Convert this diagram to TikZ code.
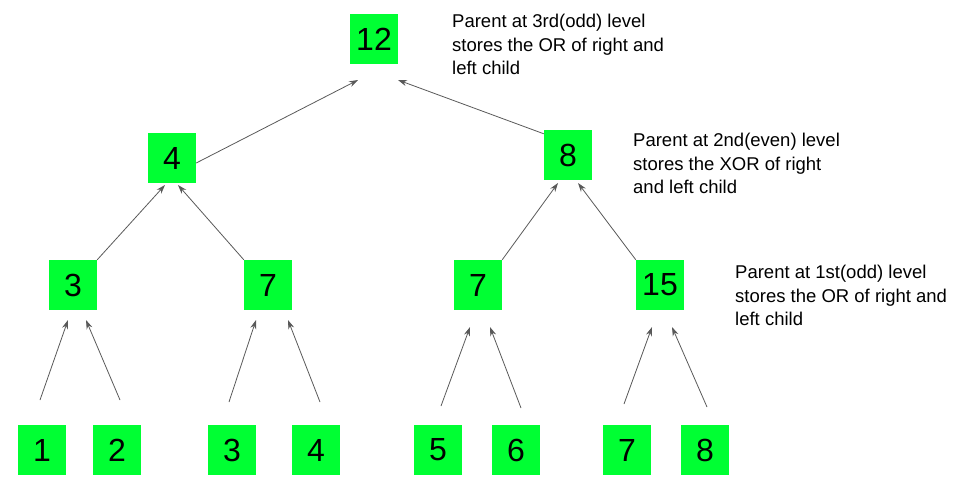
\documentclass[tikz,border=0pt]{standalone}
\usepackage{fontspec}
\setmainfont{Liberation Sans}
\usetikzlibrary{arrows.meta}
\definecolor{boxgreen}{HTML}{00FF33}
\tikzset{
  box/.style={fill=boxgreen, minimum width=48pt, minimum height=50pt, inner sep=0pt, font=\fontsize{32}{34}\selectfont},
  note/.style={anchor=north west, align=left, inner sep=0pt, font=\fontsize{18.5}{23.5}\selectfont},
  arr/.style={draw=black!65, line width=0.8pt, -{Stealth[length=9pt,width=6pt]}}
}
\begin{document}
\begin{tikzpicture}[x=1pt,y=-1pt]
  \useasboundingbox (0,0) rectangle (971,496);
  % tree
  \node[box] (root) at (374,39) {12};
  \node[box] (a) at (172,158) {4};
  \node[box] (b) at (568,155) {8};
  \node[box] (a1) at (73,285) {3};
  \node[box] (a2) at (268,285) {7};
  \node[box] (b1) at (478,285) {7};
  \node[box] (b2) at (660,285) {15};
  \node[box] (l1) at (42,450) {1};
  \node[box] (l2) at (117,450) {2};
  \node[box] (l3) at (232,450) {3};
  \node[box] (l4) at (316,450) {4};
  \node[box] (l5) at (438,450) {5};
  \node[box] (l6) at (516,450) {6};
  \node[box] (l7) at (627,450) {7};
  \node[box] (l8) at (705,450) {8};
  % notes
  \node[note] (n1) at (452,14) {Parent at 3rd(odd) level\\stores the OR of right and\\left child};
  \node[note] (n2) at (633,133) {Parent at 2nd(even) level\\stores the XOR of right\\and left child};
  \node[note] (n3) at (735,265) {Parent at 1st(odd) level\\stores the OR of right and\\left child};
  % arrow ends
  \coordinate (s1) at (40,400);  \coordinate (e1) at (68,320);
  \coordinate (s2) at (120,400); \coordinate (e2) at (86,320);
  \coordinate (s3) at (229,402); \coordinate (e3) at (256,320);
  \coordinate (s4) at (320,402); \coordinate (e4) at (288,320);
  \coordinate (s5) at (441,406); \coordinate (e5) at (470,327);
  \coordinate (s6) at (521,408); \coordinate (e6) at (490,327);
  \coordinate (s7) at (624,404); \coordinate (e7) at (652,327);
  \coordinate (s8) at (707,407); \coordinate (e8) at (672,327);
  \draw[arr] (s1) -- (e1);
  \draw[arr] (s2) -- (e2);
  \draw[arr] (s3) -- (e3);
  \draw[arr] (s4) -- (e4);
  \draw[arr] (s5) -- (e5);
  \draw[arr] (s6) -- (e6);
  \draw[arr] (s7) -- (e7);
  \draw[arr] (s8) -- (e8);
  \draw[arr] (a1.north east) -- (165,185);
  \draw[arr] (a2.north west) -- (178,185);
  \draw[arr] (b1.north east) -- (558,183);
  \draw[arr] (b2.north west) -- (578,183);
  \draw[arr] (a.east) ++(0,5) -- (358,80);
  \draw[arr] (b.north west) ++(0,4) -- (398,80);
\end{tikzpicture}
\end{document}
